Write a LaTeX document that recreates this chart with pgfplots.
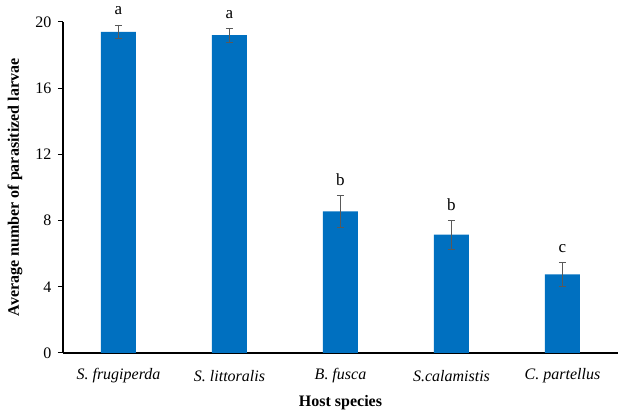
\documentclass[border=0pt]{standalone}
\usepackage{pgfplots}
\pgfplotsset{compat=1.18}
\usepackage{fontspec}
\setmainfont{Liberation Serif}
\definecolor{barblue}{HTML}{0070C0}
\definecolor{errgray}{HTML}{595959}
\begin{document}
\begin{tikzpicture}
\begin{axis}[
  at={(0,0)}, anchor=south west,
  scale only axis, width=555pt, height=331pt,
  xmin=-0.5, xmax=4.5, ymin=0, ymax=20,
  ytick={0,4,8,12,16,20},
  xtick={0,1,2,3,4},
  xticklabels={\textit{S. frugiperda},\textit{S. littoralis},\textit{B. fusca},\textit{S.calamistis},\textit{C. partellus}},
  axis x line*=bottom, axis y line*=left,
  axis line style={black, line width=1.2pt},
  tick align=outside, major tick length=5pt,
  y tick style={black, line width=1pt},
  x tick style={draw=none},
  ticklabel style={font=\fontsize{16}{18}\selectfont},
  yticklabel style={xshift=-3pt},
  /pgf/number format/assume math mode=true,
  xlabel={\textbf{Host species}},
  ylabel={\textbf{Average number of parasitized larvae}},
  label style={font=\fontsize{16}{18}\selectfont},
  xlabel style={at={(axis description cs:0.5,0)}, anchor=center, yshift=-50pt},
  ylabel style={at={(axis description cs:0,0.5)}, anchor=center, yshift=48pt},
  xticklabel style={anchor=center, yshift=-18pt},
  clip=false,
]
\addplot[ybar, bar width=35pt, fill=barblue, draw=none,
  error bars/.cd, y dir=both, y explicit,
  error bar style={errgray, line width=0.8pt},
  error mark options={rotate=90, mark size=3.5pt, errgray, line width=0.8pt}]
  table[x=x, y=y, y error=e] {
x y e
0 19.4 0.42
1 19.2 0.43
2 8.55 0.97
3 7.15 0.87
4 4.75 0.73
};
\addplot[only marks, mark=none, nodes near coords, point meta=explicit symbolic,
  nodes near coords style={font=\fontsize{17}{18}\selectfont, anchor=base, inner sep=0pt, yshift=10pt}]
  table[x=x, y=y, meta=l] {
x y l
0 19.82 a
1 19.63 a
2 9.52 b
3 8.02 b
4 5.48 c
};
\end{axis}
\pgfresetboundingbox
\path (-63pt,-58pt) rectangle (556pt,353pt);
\end{tikzpicture}
\end{document}
